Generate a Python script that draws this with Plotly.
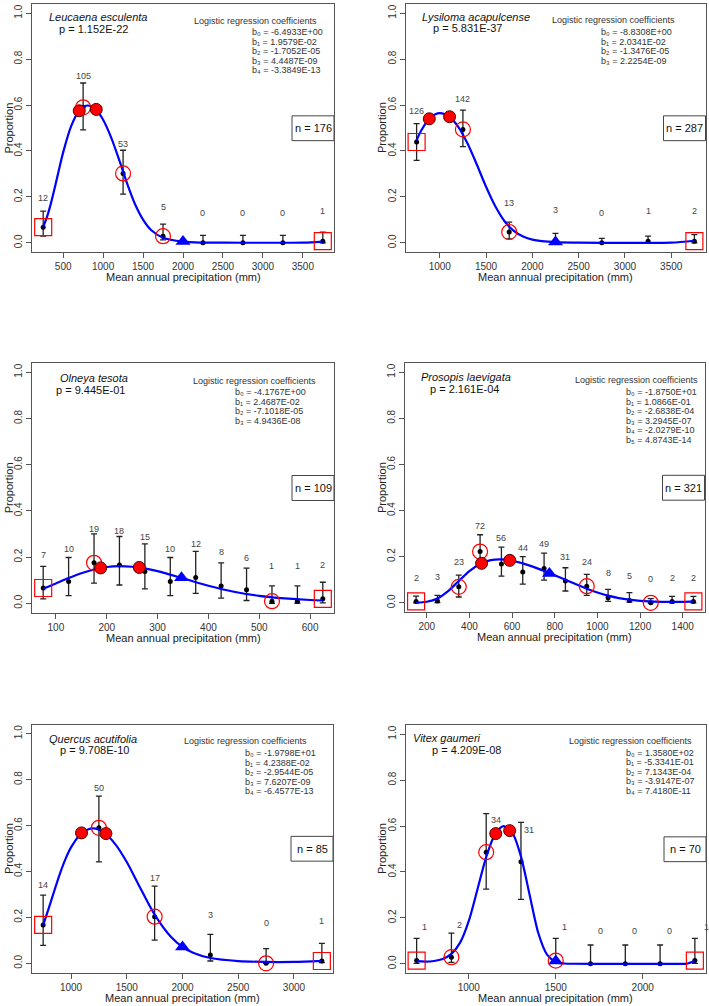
import plotly.graph_objects as go

FONT = "Liberation Sans, Arial, Helvetica, sans-serif"

# ---------------- Leucaena esculenta ----------------
LE_X = [250, 750, 1250, 1750, 2250, 2750, 3250, 3750]
LE_PROP = [0.068, 0.590, 0.302, 0.029, 0.0, 0.0, 0.0, 0.007]
LE_LO = [0.029, 0.492, 0.212, 0.013, 0.0, 0.0, 0.0, 0.0]
LE_HI = [0.138, 0.696, 0.403, 0.081, 0.032, 0.032, 0.032, 0.046]
LE_COUNT = [12, 105, 53, 5, 0, 0, 0, 1]
LE_COUNT_Y = [0.197, 0.725, 0.430, 0.158, 0.132, 0.132, 0.132, 0.137]
LE_CURVE_X = [250, 300, 350, 400, 450, 500, 600, 700, 800, 900, 1000, 1100, 1200,
              1300, 1400, 1500, 1600, 1750, 2000, 2250, 2500, 3000, 3500, 3750]
LE_CURVE_Y = [0.069, 0.115, 0.176, 0.247, 0.322, 0.394, 0.508, 0.575, 0.598, 0.583,
              0.536, 0.459, 0.362, 0.259, 0.168, 0.101, 0.056, 0.022, 0.005, 0.001,
              0.0004, 0.0002, 0.001, 0.0055]
LE_PEAK_X = [701, 914]
LE_PEAK_Y = [0.575, 0.581]
LE_CIRCLE_IDX = [1, 2, 3]
LE_SQUARE_IDX = [0, 7]
LE_TRI_X = [2000]
LE_TRI_Y = [0.006]
LE_XTICKS = [500, 1000, 1500, 2000, 2500, 3000, 3500]
LE_P = "p = 1.152E-22"
LE_N = 176
LE_COEF = ["-6.4933E+00", "1.9579E-02", "-1.7052E-05", "4.4487E-09", "-3.3849E-13"]

# ---------------- Lysiloma acapulcense ----------------
LA_X = [750, 1250, 1750, 2250, 2750, 3250, 3750]
LA_PROP = [0.439, 0.494, 0.047, 0.006, 0.0, 0.007, 0.007]
LA_LO = [0.359, 0.419, 0.017, 0.0, 0.0, 0.0, 0.0]
LA_HI = [0.519, 0.578, 0.090, 0.041, 0.019, 0.029, 0.036]
LA_COUNT = [126, 142, 13, 3, 0, 1, 2]
LA_COUNT_Y = [0.574, 0.625, 0.174, 0.141, 0.131, 0.138, 0.138]
LA_CURVE_X = [750, 800, 900, 1000, 1100, 1200, 1300, 1400, 1500, 1600, 1700, 1800,
              1900, 2000, 2250, 2500, 3000, 3500, 3750]
LA_CURVE_Y = [0.446, 0.489, 0.546, 0.565, 0.550, 0.505, 0.432, 0.341, 0.244, 0.159,
              0.094, 0.052, 0.0275, 0.014, 0.0026, 0.0006, 0.0001, 0.0007, 0.009]
LA_PEAK_X = [887, 1106]
LA_PEAK_Y = [0.540, 0.549]
LA_CIRCLE_IDX = [1, 2]
LA_SQUARE_IDX = [0, 6]
LA_TRI_X = [2250]
LA_TRI_Y = [0.004]
LA_XTICKS = [1000, 1500, 2000, 2500, 3000, 3500]
LA_P = "p = 5.831E-37"
LA_N = 287
LA_COEF = ["-8.8308E+00", "2.0341E-02", "-1.3476E-05", "2.2254E-09"]

# ---------------- Olneya tesota ----------------
OT_X = [75, 125, 175, 225, 275, 325, 375, 425, 475, 525, 575, 625]
OT_PROP = [0.066, 0.094, 0.175, 0.166, 0.137, 0.094, 0.111, 0.075, 0.058, 0.009, 0.009, 0.019]
OT_LO = [0.019, 0.033, 0.087, 0.079, 0.062, 0.033, 0.043, 0.022, 0.012, 0.0, 0.0, 0.002]
OT_HI = [0.160, 0.198, 0.300, 0.289, 0.257, 0.198, 0.225, 0.175, 0.152, 0.075, 0.075, 0.091]
OT_COUNT = [7, 10, 19, 18, 15, 10, 12, 8, 6, 1, 1, 2]
OT_COUNT_Y = [0.209, 0.235, 0.322, 0.312, 0.286, 0.235, 0.257, 0.221, 0.195, 0.160, 0.160, 0.166]
OT_CURVE_X = [75, 100, 125, 150, 175, 200, 225, 250, 275, 300, 350, 400, 450, 500, 550, 600, 625]
OT_CURVE_Y = [0.063, 0.086, 0.109, 0.130, 0.146, 0.157, 0.161, 0.158, 0.151, 0.139,
              0.108, 0.076, 0.050, 0.032, 0.021, 0.014, 0.012]
OT_PEAK_X = [188, 264]
OT_PEAK_Y = [0.153, 0.155]
OT_CIRCLE_IDX = [2, 9]
OT_SQUARE_IDX = [0, 11]
OT_TRI_X = [347]
OT_TRI_Y = [0.110]
OT_XTICKS = [100, 200, 300, 400, 500, 600]
OT_P = "p = 9.445E-01"
OT_N = 109
OT_COEF = ["-4.1767E+00", "2.4687E-02", "-7.1018E-05", "4.9436E-08"]

# ---------------- Prosopis laevigata ----------------
PL_X = [150, 250, 350, 450, 550, 650, 750, 850, 950, 1050, 1150, 1250, 1350, 1450]
PL_PROP = [0.006, 0.008, 0.069, 0.222, 0.168, 0.134, 0.149, 0.095, 0.072, 0.022, 0.010, 0.0, 0.006, 0.006]
PL_LO = [0.0, 0.001, 0.025, 0.160, 0.116, 0.081, 0.098, 0.051, 0.032, 0.006, 0.003, 0.0, 0.0, 0.0]
PL_HI = [0.029, 0.032, 0.120, 0.295, 0.241, 0.200, 0.215, 0.152, 0.123, 0.058, 0.044, 0.018, 0.028, 0.028]
PL_COUNT = [2, 3, 23, 72, 56, 44, 49, 31, 24, 8, 5, 0, 2, 2]
PL_COUNT_Y = [0.108, 0.112, 0.175, 0.331, 0.280, 0.239, 0.255, 0.197, 0.178, 0.128, 0.117, 0.102, 0.108, 0.108]
PL_CURVE_X = [150, 200, 250, 300, 350, 400, 450, 500, 550, 600, 650, 700, 750, 800,
              850, 900, 950, 1000, 1050, 1100, 1200, 1300, 1400, 1450]
PL_CURVE_Y = [0.0001, 0.0044, 0.0188, 0.0504, 0.0947, 0.1377, 0.1686, 0.1847, 0.1881,
              0.1823, 0.1708, 0.1557, 0.1383, 0.1195, 0.1002, 0.0800, 0.0611, 0.0445,
              0.0308, 0.0204, 0.0086, 0.0042, 0.0040, 0.0060]
PL_PEAK_X = [457, 589]
PL_PEAK_Y = [0.171, 0.184]
PL_CIRCLE_IDX = [2, 3, 8, 11]
PL_SQUARE_IDX = [0, 13]
PL_TRI_X = [775]
PL_TRI_Y = [0.127]
PL_XTICKS = [200, 400, 600, 800, 1000, 1200, 1400]
PL_P = "p = 2.161E-04"
PL_N = 321
PL_COEF = ["-1.8750E+01", "1.0866E-01", "-2.6838E-04", "3.2945E-07", "-2.0279E-10", "4.8743E-14"]

# ---------------- Quercus acutifolia ----------------
QA_X = [750, 1250, 1750, 2250, 2750, 3250]
QA_PROP = [0.167, 0.590, 0.203, 0.036, 0.0, 0.010]
QA_LO = [0.078, 0.442, 0.101, 0.010, 0.0, 0.003]
QA_HI = [0.297, 0.728, 0.336, 0.126, 0.064, 0.087]
QA_COUNT = [14, 50, 17, 3, 0, 1]
QA_COUNT_Y = [0.339, 0.764, 0.372, 0.209, 0.174, 0.184]
QA_CURVE_X = [750, 800, 850, 900, 950, 1000, 1100, 1200, 1300, 1400, 1500, 1600, 1750,
              1900, 2000, 2100, 2250, 2500, 2750, 3000, 3250]
QA_CURVE_Y = [0.166, 0.239, 0.316, 0.390, 0.454, 0.505, 0.569, 0.588, 0.568, 0.517,
              0.441, 0.348, 0.212, 0.113, 0.071, 0.045, 0.023, 0.0097, 0.006, 0.0062, 0.0106]
QA_PEAK_X = [1094, 1313]
QA_PEAK_Y = [0.568, 0.565]
QA_CIRCLE_IDX = [1, 2, 4]
QA_SQUARE_IDX = [0, 5]
QA_TRI_X = [2000]
QA_TRI_Y = [0.071]
QA_XTICKS = [1000, 1500, 2000, 2500, 3000]
QA_P = "p = 9.708E-10"
QA_N = 85
QA_COEF = ["-1.9798E+01", "4.2388E-02", "-2.9544E-05", "7.6207E-09", "-6.4577E-13"]

# ---------------- Vitex gaumeri ----------------
VG_X = [700, 900, 1100, 1300, 1500, 1700, 1900, 2100, 2300]
VG_PROP = [0.014, 0.029, 0.486, 0.444, 0.014, 0.0, 0.0, 0.0, 0.014]
VG_LO = [0.002, 0.006, 0.325, 0.281, 0.002, 0.0, 0.0, 0.0, 0.002]
VG_HI = [0.111, 0.134, 0.654, 0.616, 0.111, 0.082, 0.082, 0.082, 0.111]
VG_COUNT = [1, 2, 34, 31, 1, 0, 0, 0, 1]
VG_COUNT_X = [748, 946, 1154, 1346, 1552, 1756, 1955, 2155, 2364]
VG_COUNT_Y = [0.159, 0.170, 0.625, 0.584, 0.159, 0.144, 0.144, 0.144, 0.159]
VG_CURVE_X = [700, 750, 800, 850, 900, 950, 1000, 1050, 1100, 1150, 1200, 1250, 1300,
              1350, 1400, 1450, 1500, 1550, 1600, 1800, 2000, 2200, 2250, 2300]
VG_CURVE_Y = [0.0113, 0.0096, 0.0124, 0.0212, 0.043, 0.0924, 0.187, 0.325, 0.465, 0.563,
              0.600, 0.571, 0.467, 0.300, 0.133, 0.040, 0.0084, 0.0014, 0.0002, 0.0,
              0.0, 0.0, 0.0001, 0.012]
VG_PEAK_X = [1155, 1235]
VG_PEAK_Y = [0.567, 0.580]
VG_CIRCLE_IDX = [1, 2, 4]
VG_SQUARE_IDX = [0, 8]
VG_TRI_X = [1500]
VG_TRI_Y = [0.012]
VG_XTICKS = [1000, 1500, 2000]
VG_P = "p = 4.209E-08"
VG_N = 70
VG_COEF = ["1.3580E+02", "-5.3341E-01", "7.1343E-04", "-3.9147E-07", "7.4180E-11"]

Y_TICKS = [0.0, 0.2, 0.4, 0.6, 0.8, 1.0]
SUBSCRIPTS = ["\u2080", "\u2081", "\u2082", "\u2083", "\u2084", "\u2085"]

panels = [
    dict(name="Leucaena esculenta", p=LE_P, n=LE_N, coef=LE_COEF, x=LE_X, prop=LE_PROP,
         lo=LE_LO, hi=LE_HI, count=LE_COUNT, count_x=LE_X, count_y=LE_COUNT_Y,
         cx=LE_CURVE_X, cy=LE_CURVE_Y, px=LE_PEAK_X, py=LE_PEAK_Y, circ=LE_CIRCLE_IDX,
         sq=LE_SQUARE_IDX, tx=LE_TRI_X, ty=LE_TRI_Y, ticks=LE_XTICKS,
         box=(32, 334, 4, 252), t_pos=(0.2175, 0.949), p_pos=(0.205, 0.899),
         ct_pos=(0.741, 0.933), cl_pos=(0.722, 0.886)),
    dict(name="Lysiloma acapulcense", p=LA_P, n=LA_N, coef=LA_COEF, x=LA_X, prop=LA_PROP,
         lo=LA_LO, hi=LA_HI, count=LA_COUNT, count_x=LA_X, count_y=LA_COUNT_Y,
         cx=LA_CURVE_X, cy=LA_CURVE_Y, px=LA_PEAK_X, py=LA_PEAK_Y, circ=LA_CIRCLE_IDX,
         sq=LA_SQUARE_IDX, tx=LA_TRI_X, ty=LA_TRI_Y, ticks=LA_XTICKS,
         box=(405.5, 705.5, 4, 252), t_pos=(0.234, 0.949), p_pos=(0.207, 0.902),
         ct_pos=(0.694, 0.935), cl_pos=(0.646, 0.886)),
    dict(name="Olneya tesota", p=OT_P, n=OT_N, coef=OT_COEF, x=OT_X, prop=OT_PROP,
         lo=OT_LO, hi=OT_HI, count=OT_COUNT, count_x=OT_X, count_y=OT_COUNT_Y,
         cx=OT_CURVE_X, cy=OT_CURVE_Y, px=OT_PEAK_X, py=OT_PEAK_Y, circ=OT_CIRCLE_IDX,
         sq=OT_SQUARE_IDX, tx=OT_TRI_X, ty=OT_TRI_Y, ticks=OT_XTICKS,
         box=(32, 334, 363, 612.5), t_pos=(0.206, 0.939), p_pos=(0.195, 0.892),
         ct_pos=(0.738, 0.929), cl_pos=(0.667, 0.883)),
    dict(name="Prosopis laevigata", p=PL_P, n=PL_N, coef=PL_COEF, x=PL_X, prop=PL_PROP,
         lo=PL_LO, hi=PL_HI, count=PL_COUNT, count_x=PL_X, count_y=PL_COUNT_Y,
         cx=PL_CURVE_X, cy=PL_CURVE_Y, px=PL_PEAK_X, py=PL_PEAK_Y, circ=PL_CIRCLE_IDX,
         sq=PL_SQUARE_IDX, tx=PL_TRI_X, ty=PL_TRI_Y, ticks=PL_XTICKS,
         box=(405, 704.5, 363, 612), t_pos=(0.203, 0.945), p_pos=(0.197, 0.895),
         ct_pos=(0.772, 0.932), cl_pos=(0.732, 0.882)),
    dict(name="Quercus acutifolia", p=QA_P, n=QA_N, coef=QA_COEF, x=QA_X, prop=QA_PROP,
         lo=QA_LO, hi=QA_HI, count=QA_COUNT, count_x=QA_X, count_y=QA_COUNT_Y,
         cx=QA_CURVE_X, cy=QA_CURVE_Y, px=QA_PEAK_X, py=QA_PEAK_Y, circ=QA_CIRCLE_IDX,
         sq=QA_SQUARE_IDX, tx=QA_TRI_X, ty=QA_TRI_Y, ticks=QA_XTICKS,
         box=(32, 333, 724.5, 972.5), t_pos=(0.2016, 0.9435), p_pos=(0.207, 0.896),
         ct_pos=(0.71, 0.933), cl_pos=(0.702, 0.885)),
    dict(name="Vitex gaumeri", p=VG_P, n=VG_N, coef=VG_COEF, x=VG_X, prop=VG_PROP,
         lo=VG_LO, hi=VG_HI, count=VG_COUNT, count_x=VG_COUNT_X, count_y=VG_COUNT_Y,
         cx=VG_CURVE_X, cy=VG_CURVE_Y, px=VG_PEAK_X, py=VG_PEAK_Y, circ=VG_CIRCLE_IDX,
         sq=VG_SQUARE_IDX, tx=VG_TRI_X, ty=VG_TRI_Y, ticks=VG_XTICKS,
         box=(405.5, 706, 725, 973), t_pos=(0.1386, 0.946), p_pos=(0.203, 0.899),
         ct_pos=(0.749, 0.935), cl_pos=(0.727, 0.888)),
]

W, H = 709, 1006
AXIS_COLOR = "#555555"
TEXT_COLOR = "#222222"
RED = "#FF0000"
BLUE = "#0000FF"

fig = go.Figure()
layout = dict(
    width=W, height=H, margin=dict(l=0, r=0, t=0, b=0),
    paper_bgcolor="white", plot_bgcolor="white", showlegend=False,
    font=dict(family=FONT, color=TEXT_COLOR),
)
annotations = []
shapes = []

for k, pn in enumerate(panels):
    s = "" if k == 0 else str(k + 1)
    xa, ya = "x" + s, "y" + s
    xd, yd = xa + " domain", ya + " domain"
    left, right, top, bottom = pn["box"]
    box_h = bottom - top
    box_w = right - left
    x0, x1 = pn["x"][0], pn["x"][-1]
    pad = 0.04 * (x1 - x0)

    layout["xaxis" + s] = dict(
        domain=[left / W, right / W], range=[x0 - pad, x1 + pad], anchor=ya,
        tickvals=pn["ticks"], ticks="outside", ticklen=5, tickwidth=1,
        tickcolor=AXIS_COLOR, showline=True, linecolor=AXIS_COLOR, linewidth=1,
        mirror=True, showgrid=False, zeroline=False,
        tickfont=dict(size=10, color="#333333", family=FONT),
    )
    layout["yaxis" + s] = dict(
        domain=[1 - bottom / H, 1 - top / H], range=[-0.04, 1.04], anchor=xa,
        tickvals=Y_TICKS, ticktext=[f"{v:.1f}" for v in Y_TICKS], tickangle=-90,
        ticks="outside", ticklen=5, tickwidth=1, tickcolor=AXIS_COLOR,
        showline=True, linecolor=AXIS_COLOR, linewidth=1, mirror=True,
        showgrid=False, zeroline=False,
        tickfont=dict(size=10, color="#333333", family=FONT),
    )

    common = dict(xaxis=xa, yaxis=ya, showlegend=False, hoverinfo="skip")

    # points with error bars
    fig.add_trace(go.Scatter(
        x=pn["x"], y=pn["prop"], mode="markers",
        marker=dict(size=5, color="black"),
        error_y=dict(type="data", symmetric=False,
                     array=[h - p for h, p in zip(pn["hi"], pn["prop"])],
                     arrayminus=[p - l for p, l in zip(pn["prop"], pn["lo"])],
                     color="#222222", thickness=1.3, width=3),
        **common))
    # fitted curve
    fig.add_trace(go.Scatter(
        x=pn["cx"], y=pn["cy"], mode="lines",
        line=dict(color=BLUE, width=2.2, shape="spline", smoothing=0.8),
        **common))
    # open red circles at selected points
    fig.add_trace(go.Scatter(
        x=[pn["x"][i] for i in pn["circ"]], y=[pn["prop"][i] for i in pn["circ"]],
        mode="markers",
        marker=dict(symbol="circle-open", size=15, color=RED, line=dict(width=1.2)),
        **common))
    # open red squares at the end points
    fig.add_trace(go.Scatter(
        x=[pn["x"][i] for i in pn["sq"]], y=[pn["prop"][i] for i in pn["sq"]],
        mode="markers", cliponaxis=False,
        marker=dict(symbol="square-open", size=17, color=RED, line=dict(width=1.2)),
        **common))
    # filled red circles near the optimum
    fig.add_trace(go.Scatter(
        x=pn["px"], y=pn["py"], mode="markers",
        marker=dict(symbol="circle", size=12, color=RED, line=dict(color="#550000", width=1)),
        **common))
    # blue triangle
    fig.add_trace(go.Scatter(
        x=pn["tx"], y=pn["ty"], mode="markers",
        marker=dict(symbol="triangle-up", size=13, color=BLUE, line=dict(width=0)),
        **common))
    # count labels (placed in data coordinates)
    for cx_, cy_, c in zip(pn["count_x"], pn["count_y"], pn["count"]):
        annotations.append(dict(xref=xa, yref=ya, x=cx_, y=cy_, text=str(c),
                                showarrow=False, xanchor="center", yanchor="middle",
                                font=dict(size=9, color="#444444", family=FONT)))

    # species name and p-value
    annotations.append(dict(xref=xd, yref=yd, x=pn["t_pos"][0], y=pn["t_pos"][1],
                            text=f"<i>{pn['name']}</i>", showarrow=False,
                            xanchor="center", yanchor="middle",
                            font=dict(size=11, color="#111111", family=FONT)))
    annotations.append(dict(xref=xd, yref=yd, x=pn["p_pos"][0], y=pn["p_pos"][1],
                            text=pn["p"], showarrow=False, xanchor="center", yanchor="middle",
                            font=dict(size=11, color="#111111", family=FONT)))
    # coefficients block
    annotations.append(dict(xref=xd, yref=yd, x=pn["ct_pos"][0], y=pn["ct_pos"][1],
                            text="Logistic regression coefficients", showarrow=False,
                            xanchor="center", yanchor="middle",
                            font=dict(size=9, color="#333333", family=FONT)))
    step = 9.5 / box_h
    for j, c in enumerate(pn["coef"]):
        annotations.append(dict(xref=xd, yref=yd, x=pn["cl_pos"][0],
                                y=pn["cl_pos"][1] - j * step,
                                text=f"b{SUBSCRIPTS[j]} = {c}", showarrow=False,
                                xanchor="left", yanchor="middle",
                                font=dict(size=9, color="#333333", family=FONT)))
    # n box
    bx0 = 1 - 42 / box_w
    shapes.append(dict(type="rect", xref=xd, yref=yd, x0=bx0, x1=1.0, y0=0.449, y1=0.549,
                       line=dict(color="#444444", width=1), fillcolor="white", layer="below"))
    annotations.append(dict(xref=xd, yref=yd, x=(bx0 + 1) / 2, y=0.499,
                            text=f"n = {pn['n']}", showarrow=False,
                            xanchor="center", yanchor="middle",
                            font=dict(size=11, color="#111111", family=FONT)))
    # axis titles
    annotations.append(dict(xref=xd, yref=yd, x=0.5, y=-25 / box_h,
                            text="Mean annual precipitation (mm)", showarrow=False,
                            xanchor="center", yanchor="middle",
                            font=dict(size=11, color="#222222", family=FONT)))
    annotations.append(dict(xref=xd, yref=yd, x=-23.5 / box_w, y=0.5, textangle=-90,
                            text="Proportion", showarrow=False,
                            xanchor="center", yanchor="middle",
                            font=dict(size=11, color="#222222", family=FONT)))

layout["annotations"] = annotations
layout["shapes"] = shapes
fig.update_layout(**layout)
fig.write_html("out.html")
